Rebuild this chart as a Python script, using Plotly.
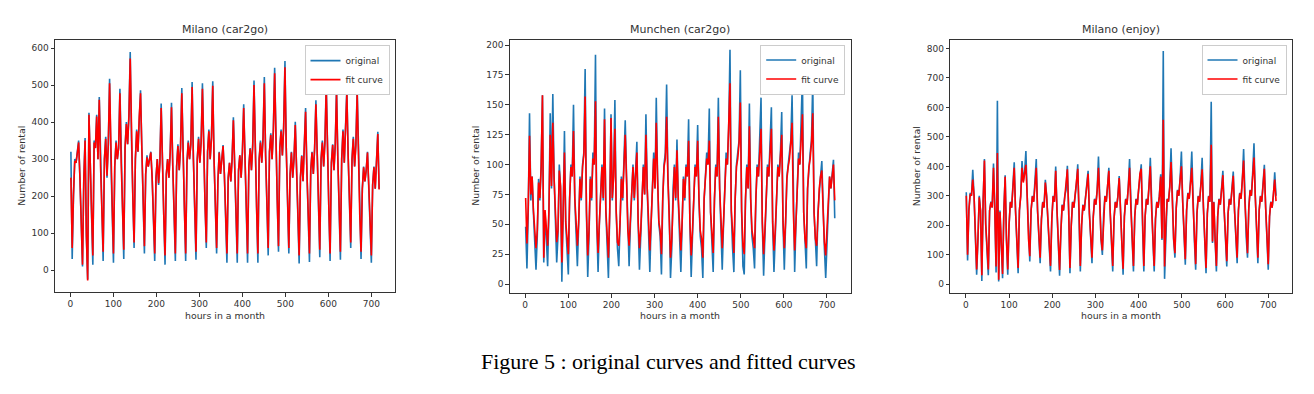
import plotly.graph_objects as go

# hours sampled every 3 h through the month
hours = list(range(1, 720, 3))

# ---------------- Milano (car2go) ----------------
milano_c2g_original = [
    320, 30, 200, 300, 290, 330, 350, 250,   150, 10, 250, 357, 90, -25, 425, 260,
    160, 15, 350, 330, 420, 300, 468, 280,   170, 25, 300, 360, 250, 340, 517, 300,
    180, 20, 280, 350, 300, 330, 490, 290,   170, 30, 330, 400, 340, 420, 589, 350,
    200, 60, 300, 380, 320, 420, 486, 330,   190, 45, 260, 310, 280, 300, 320, 250,
    140, 25, 250, 300, 230, 290, 450, 260,   150, 15, 260, 300, 250, 320, 452, 280,
    160, 25, 280, 340, 270, 330, 492, 290,   170, 25, 290, 350, 300, 340, 508, 300,
    160, 28, 300, 360, 290, 350, 505, 310,   180, 60, 320, 380, 300, 360, 510, 300,
    170, 45, 240, 320, 260, 300, 338, 260,   130, 20, 250, 290, 240, 300, 413, 270,
    150, 20, 270, 310, 250, 320, 448, 280,   160, 20, 280, 330, 270, 340, 512, 300,
    170, 20, 300, 350, 290, 360, 522, 310,   180, 40, 320, 370, 300, 380, 547, 320,
    190, 50, 330, 380, 310, 390, 565, 330,   180, 45, 260, 320, 250, 300, 401, 280,
    140, 18, 250, 310, 240, 320, 438, 270,   150, 22, 270, 320, 260, 330, 459, 290,
    160, 35, 300, 350, 280, 350, 504, 300,   170, 25, 290, 340, 270, 340, 493, 300,
    160, 28, 300, 380, 290, 420, 490, 310,   180, 60, 300, 360, 280, 340, 490, 300,
    150, 30, 220, 280, 240, 270, 320, 230,   120, 20, 230, 280, 220, 300, 374, 220,
]
milano_c2g_fit = [
    250, 60, 205, 295, 290, 325, 345, 250,   150, 15, 245, 350, 95, -28, 420, 255,
    160, 40, 345, 330, 415, 300, 460, 280,   175, 50, 300, 355, 255, 340, 505, 300,
    180, 45, 280, 345, 300, 330, 478, 290,   175, 55, 330, 395, 340, 415, 572, 345,
    200, 75, 300, 375, 320, 415, 478, 330,   190, 65, 260, 305, 280, 300, 318, 250,
    145, 45, 250, 300, 235, 290, 438, 260,   150, 40, 260, 300, 250, 318, 440, 280,
    160, 45, 280, 335, 270, 330, 478, 290,   170, 45, 290, 345, 300, 340, 495, 300,
    165, 50, 300, 355, 290, 345, 490, 310,   180, 75, 320, 375, 300, 355, 498, 300,
    170, 60, 240, 318, 260, 300, 335, 260,   135, 45, 250, 290, 240, 300, 405, 270,
    150, 45, 270, 310, 250, 318, 438, 280,   160, 45, 280, 328, 270, 335, 500, 300,
    170, 45, 300, 345, 290, 355, 505, 310,   180, 60, 320, 365, 300, 375, 532, 320,
    190, 65, 330, 375, 310, 385, 548, 330,   180, 60, 260, 318, 250, 300, 392, 280,
    145, 40, 250, 308, 240, 318, 428, 270,   150, 45, 270, 318, 260, 328, 448, 290,
    160, 55, 300, 345, 280, 345, 492, 300,   170, 45, 290, 338, 270, 338, 480, 300,
    160, 50, 300, 375, 290, 415, 478, 310,   180, 75, 300, 355, 280, 338, 478, 300,
    150, 50, 220, 278, 240, 270, 318, 230,   125, 40, 230, 278, 220, 298, 368, 218,
]

# ---------------- Munchen (car2go) ----------------
munchen_c2g_original = [
    48, 13, 60, 143, 70, 90, 60, 40,     12, 40, 88, 70, 100, 158, 18, 60,
    40, 15, 60, 143, 80, 159, 90, 50,    18, 40, 100, 80, 2, 60, 128, 50,
    30, 8, 70, 100, 90, 150, 70, 40,     15, 50, 90, 70, 100, 110, 180, 60,
    6, 40, 90, 70, 110, 100, 192, 50,    10, 50, 80, 100, 70, 147, 60, 30,
    5, 60, 142, 70, 90, 154, 60, 30,     15, 50, 90, 70, 100, 137, 90, 40,
    15, 50, 80, 100, 70, 90, 119, 50,    12, 40, 80, 100, 75, 142, 80, 40,
    10, 50, 90, 110, 80, 156, 90, 50,    40, 8, 70, 100, 110, 167, 90, 60,
    5, 30, 80, 100, 70, 121, 70, 40,     10, 50, 90, 70, 100, 90, 138, 50,
    6, 40, 80, 100, 90, 133, 70, 40,     30, 5, 70, 90, 110, 100, 147, 60,
    30, 10, 70, 100, 90, 156, 80, 40,    12, 50, 90, 110, 100, 130, 196, 60,
    30, 10, 70, 100, 110, 120, 179, 60,  15, 8, 70, 100, 80, 151, 70, 40,
    30, 13, 70, 100, 90, 120, 156, 50,   7, 40, 80, 100, 90, 120, 148, 50,
    10, 40, 80, 100, 90, 110, 144, 50,   12, 50, 90, 100, 110, 120, 158, 60,
    10, 50, 90, 110, 100, 130, 173, 60,  30, 13, 80, 100, 110, 120, 170, 60,
    30, 15, 60, 80, 90, 103, 60, 30,     5, 40, 70, 90, 80, 90, 104, 55,
]
munchen_c2g_fit = [
    72, 34, 65, 124, 75, 90, 62, 45,     30, 45, 85, 72, 98, 158, 22, 62,
    45, 32, 62, 125, 82, 135, 88, 52,    35, 45, 95, 82, 18, 62, 110, 52,
    38, 25, 72, 98, 90, 128, 72, 45,     32, 52, 88, 72, 98, 108, 157, 62,
    24, 45, 88, 72, 105, 100, 153, 52,   26, 52, 80, 98, 72, 138, 62, 35,
    22, 60, 139, 72, 90, 130, 62, 35,    32, 52, 88, 72, 98, 125, 88, 45,
    32, 52, 80, 98, 72, 90, 110, 52,     30, 45, 80, 98, 75, 125, 80, 45,
    28, 52, 88, 105, 80, 135, 88, 52,    45, 25, 72, 98, 105, 140, 88, 60,
    22, 38, 80, 98, 72, 112, 72, 45,     28, 52, 88, 72, 98, 90, 120, 52,
    24, 45, 80, 98, 90, 120, 72, 45,     38, 22, 72, 90, 105, 100, 120, 60,
    38, 26, 72, 98, 90, 140, 80, 45,     30, 52, 88, 105, 100, 128, 168, 62,
    38, 26, 72, 98, 105, 118, 152, 62,   32, 25, 72, 98, 80, 132, 72, 45,
    38, 30, 72, 98, 90, 118, 130, 52,    25, 45, 80, 98, 90, 118, 130, 52,
    28, 45, 80, 98, 90, 108, 125, 52,    30, 52, 88, 98, 105, 118, 135, 60,
    28, 52, 88, 105, 100, 125, 142, 60,  38, 30, 80, 98, 105, 118, 143, 60,
    38, 32, 62, 80, 90, 95, 62, 35,      24, 45, 72, 90, 80, 90, 100, 70,
]

# ---------------- Milano (enjoy) ----------------
milano_enjoy_original = [
    312, 80, 250, 310, 300, 388, 300, 150,   32, 150, 300, 250, 11, 280, 425, 200,
    100, 30, 250, 280, 260, 410, 250, 40,    623, 9, 250, 150, 20, 250, 370, 150,
    32, 200, 280, 260, 330, 414, 250, 150,   37, 250, 300, 418, 350, 380, 452, 300,
    150, 77, 250, 300, 280, 340, 425, 250,   150, 71, 220, 280, 260, 354, 300, 200,
    150, 43, 220, 300, 280, 399, 250, 150,   29, 180, 270, 250, 300, 320, 402, 250,
    37, 200, 280, 260, 300, 340, 407, 250,   43, 200, 270, 250, 290, 330, 385, 240,
    150, 71, 230, 290, 270, 320, 433, 260,   150, 99, 240, 300, 280, 330, 395, 250,
    150, 43, 220, 280, 260, 300, 367, 230,   140, 32, 230, 290, 270, 330, 425, 260,
    150, 43, 230, 290, 270, 320, 380, 407,   200, 43, 230, 290, 270, 330, 429, 260,
    150, 43, 220, 280, 260, 300, 373, 150,   792, 18, 200, 290, 280, 330, 461, 280,
    150, 90, 260, 320, 300, 360, 450, 280,   150, 66, 250, 310, 290, 350, 450, 270,
    150, 49, 240, 300, 280, 340, 429, 260,   150, 37, 240, 300, 280, 619, 140, 280,
    150, 43, 230, 290, 270, 320, 385, 250,   150, 60, 240, 290, 270, 330, 382, 250,
    150, 71, 250, 310, 290, 350, 459, 280,   160, 90, 260, 320, 300, 380, 478, 300,
    160, 71, 250, 300, 280, 340, 405, 260,   150, 49, 230, 280, 260, 300, 380, 300,
]
milano_enjoy_fit = [
    300, 100, 250, 305, 300, 355, 300, 155,  50, 155, 295, 250, 30, 280, 420, 205,
    110, 50, 250, 278, 260, 395, 250, 60,    445, 15, 245, 155, 35, 250, 365, 155,
    50, 200, 278, 260, 325, 395, 250, 155,   55, 250, 298, 395, 345, 375, 405, 298,
    155, 95, 250, 298, 280, 335, 395, 250,   155, 90, 222, 278, 260, 345, 298, 205,
    155, 62, 222, 298, 280, 385, 250, 155,   48, 182, 268, 250, 298, 318, 390, 250,
    55, 200, 278, 260, 298, 335, 392, 250,   62, 200, 268, 250, 288, 328, 375, 240,
    155, 90, 230, 288, 270, 318, 395, 260,   155, 115, 240, 298, 280, 328, 385, 250,
    155, 62, 222, 278, 260, 298, 360, 232,   145, 52, 230, 288, 270, 328, 395, 258,
    155, 62, 230, 288, 270, 318, 375, 392,   205, 62, 230, 288, 270, 328, 400, 258,
    155, 62, 222, 278, 260, 298, 365, 155,   558, 60, 205, 288, 280, 328, 415, 278,
    155, 105, 258, 318, 300, 355, 400, 278,  155, 85, 250, 308, 290, 345, 395, 270,
    155, 68, 240, 298, 280, 335, 390, 260,   155, 55, 240, 298, 280, 473, 145, 278,
    155, 62, 230, 288, 270, 318, 370, 250,   155, 78, 240, 288, 270, 328, 368, 250,
    155, 90, 250, 308, 290, 345, 420, 280,   165, 105, 258, 318, 300, 375, 430, 298,
    165, 90, 250, 298, 280, 335, 392, 260,   155, 68, 230, 278, 260, 298, 355, 282,
]

titles = ["Milano (car2go)", "Munchen (car2go)", "Milano (enjoy)"]
x_ticks = [0, 100, 200, 300, 400, 500, 600, 700]
y_ticks = [
    [0, 100, 200, 300, 400, 500, 600],
    [0, 25, 50, 75, 100, 125, 150, 175, 200],
    [0, 100, 200, 300, 400, 500, 600, 700, 800],
]
series = [
    (milano_c2g_original, milano_c2g_fit),
    (munchen_c2g_original, munchen_c2g_fit),
    (milano_enjoy_original, milano_enjoy_fit),
]

W, H = 1314, 394
# panel frames in pixels: (left, right, top, bottom)
frames = [(47, 387, 32.3, 284), (501.7, 842.7, 31.7, 285), (942.3, 1284, 31.7, 285)]
y_ranges = [[-58.9, 620.9], [-7.5, 204.5], [-30, 830]]
x_range = [-36, 755]
ytitle_x = [12.7, 466.7, 908.3]

FONT = "DejaVu Sans"
TXT = "#333333"

fig = go.Figure()
legend_names = ["legend", "legend2", "legend3"]
for i, (orig, fit) in enumerate(series):
    ax = "" if i == 0 else str(i + 1)
    fig.add_trace(go.Scatter(x=hours, y=orig, mode="lines", name="original",
                             line=dict(color="#1f77b4", width=1.6),
                             xaxis="x" + ax, yaxis="y" + ax, legend=legend_names[i]))
    fig.add_trace(go.Scatter(x=hours, y=fit, mode="lines", name="fit curve",
                             line=dict(color="#ff0000", width=1.6),
                             xaxis="x" + ax, yaxis="y" + ax, legend=legend_names[i]))

layout = dict(
    width=W, height=H,
    margin=dict(l=0, r=0, t=0, b=0),
    paper_bgcolor="white", plot_bgcolor="white",
    showlegend=True,
    font=dict(family=FONT, color=TXT),
)
annotations = []
for i, (l, r, t, b) in enumerate(frames):
    ax = "" if i == 0 else str(i + 1)
    common = dict(showline=True, mirror=True, linecolor="#333333", linewidth=1,
                  ticks="outside", ticklen=3.5, tickwidth=0.8, tickcolor="#333333",
                  showgrid=False, zeroline=False,
                  tickfont=dict(family=FONT, size=9, color=TXT))
    layout["xaxis" + ax] = dict(common, domain=[l / W, r / W], range=x_range,
                                tickvals=x_ticks, anchor="y" + ax)
    layout["yaxis" + ax] = dict(common, domain=[1 - b / H, 1 - t / H], range=y_ranges[i],
                                tickvals=y_ticks[i], anchor="x" + ax)
    lg = dict(x=(r - 5.5) / W, y=1 - (t + 4.8) / H, xanchor="right", yanchor="top",
              bgcolor="white", bordercolor="#cccccc", borderwidth=1,
              font=dict(family=FONT, size=9, color=TXT), tracegroupgap=0,
              itemwidth=30)
    layout[legend_names[i]] = lg
    cx = (l + r) / 2 / W
    annotations.append(dict(text=titles[i], x=cx, y=1 - 21.7 / H, xref="paper", yref="paper",
                            showarrow=False, xanchor="center", yanchor="middle",
                            font=dict(family=FONT, size=11, color=TXT)))
    annotations.append(dict(text="hours in a month", x=cx, y=1 - 307.7 / H, xref="paper",
                            yref="paper", showarrow=False, xanchor="center", yanchor="middle",
                            font=dict(family=FONT, size=9.4, color=TXT)))
    annotations.append(dict(text="Number of rental", x=ytitle_x[i] / W, y=1 - 158 / H,
                            xref="paper", yref="paper", showarrow=False, textangle=-90,
                            xanchor="center", yanchor="middle",
                            font=dict(family=FONT, size=9.4, color=TXT)))
annotations.append(dict(text="Figure 5 : original curves and fitted curves",
                        x=660 / W, y=1 - 353 / H, xref="paper", yref="paper",
                        showarrow=False, xanchor="center", yanchor="middle",
                        font=dict(family="Liberation Serif", size=22, color="black")))
layout["annotations"] = annotations
fig.update_layout(**layout)

fig.write_html("out.html")
